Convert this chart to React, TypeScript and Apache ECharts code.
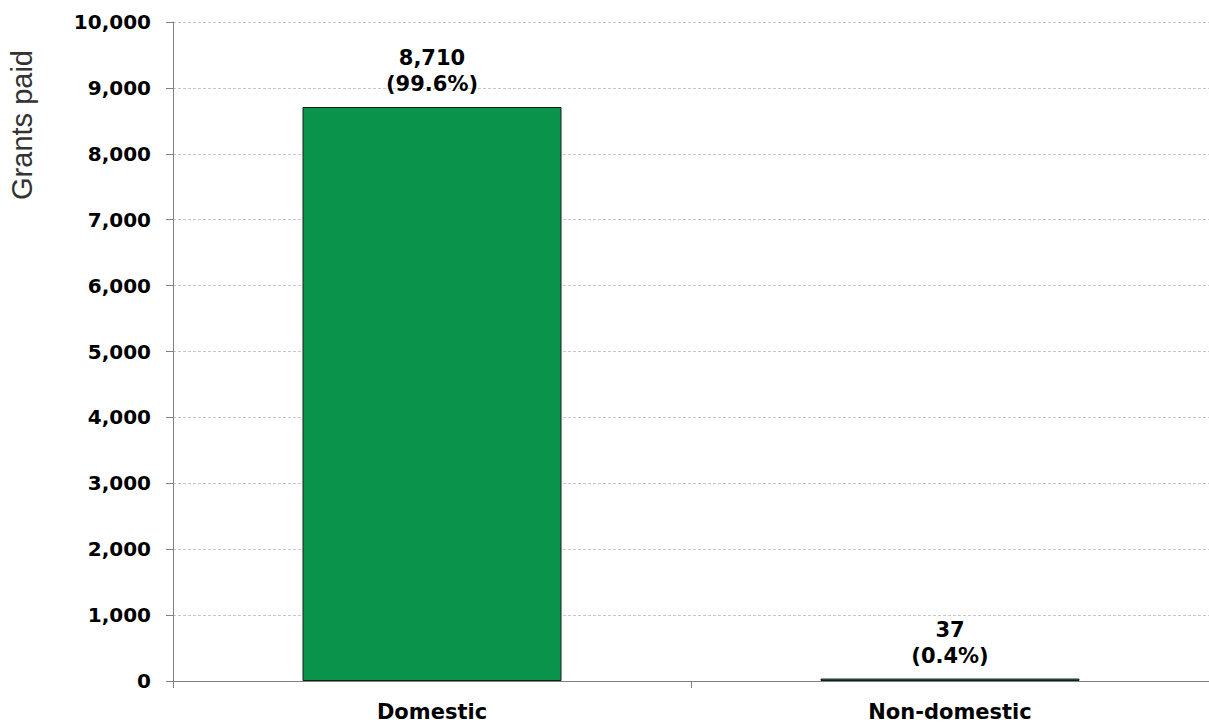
import React, { useEffect, useRef } from "react";
import * as echarts from "echarts";

const categories = ["Domestic", "Non-domestic"];
const grants = [8710, 37];
const shares = ["99.6%", "0.4%"];
const yTicks = { min: 0, max: 10000, interval: 1000 };
const yAxisTitle = "Grants paid";

export default function App() {
  const ref = useRef<HTMLDivElement>(null);
  useEffect(() => {
    const chart = echarts.init(ref.current!, null, { renderer: "svg" });
    const font = "'DejaVu Sans', Verdana, sans-serif";
    chart.setOption({
      animation: false,
      grid: { left: 173, right: -2, top: 22, bottom: 41 },
      graphic: [
        {
          type: "text",
          x: 22,
          y: 125,
          rotation: Math.PI / 2,
          style: {
            text: yAxisTitle,
            font: `29px 'Liberation Sans', Arial, sans-serif`,
            fill: "#333",
            align: "center",
            verticalAlign: "middle",
          },
        },
      ],
      xAxis: {
        type: "category",
        data: categories,
        axisLine: { lineStyle: { color: "#808080", width: 1 } },
        axisTick: { show: true, length: 7, lineStyle: { color: "#808080" } },
        axisLabel: {
          fontFamily: font,
          fontWeight: "bold",
          fontSize: 21,
          color: "#000",
          margin: 20,
        },
      },
      yAxis: {
        type: "value",
        min: yTicks.min,
        max: yTicks.max,
        interval: yTicks.interval,
        axisLine: { show: true, lineStyle: { color: "#808080", width: 1 } },
        axisTick: { show: true, length: 7, lineStyle: { color: "#808080" } },
        splitLine: { lineStyle: { color: "#c8c8c8", type: [3, 2] } },
        axisLabel: {
          fontFamily: font,
          fontWeight: "bold",
          fontSize: 20,
          color: "#000",
          margin: 22,
          formatter: (v: number) => v.toLocaleString("en-US"),
        },
      },
      series: [
        {
          type: "bar",
          data: grants,
          barWidth: "50%",
          itemStyle: { color: "#0a934a", borderColor: "#1a1a1a", borderWidth: 1 },
          label: {
            show: true,
            position: "top",
            distance: 10,
            fontFamily: font,
            fontWeight: "bold",
            fontSize: 21,
            lineHeight: 26,
            color: "#000",
            formatter: (p: any) =>
              `${grants[p.dataIndex].toLocaleString("en-US")}\n(${shares[p.dataIndex]})`,
          },
        },
      ],
    });
    return () => chart.dispose();
  }, []);
  return <div ref={ref} style={{ width: 1209, height: 722, position: "absolute", left: 0, top: 0 }} />;
}
